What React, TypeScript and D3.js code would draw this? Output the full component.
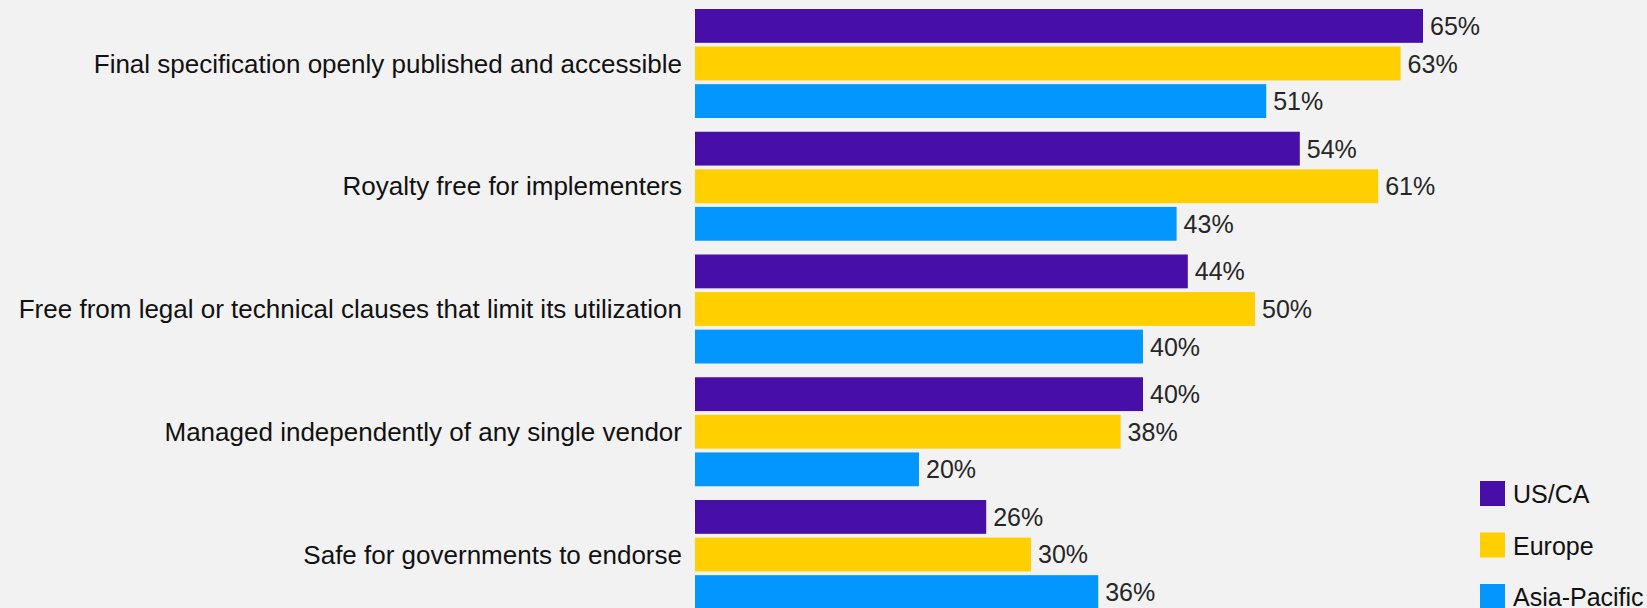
import React from "react";
import * as d3 from "d3";

const categories = [
  "Final specification openly published and accessible",
  "Royalty free for implementers",
  "Free from legal or technical clauses that limit its utilization",
  "Managed independently of any single vendor",
  "Safe for governments to endorse",
];
const seriesNames = ["US/CA", "Europe", "Asia-Pacific"];
const usCa = [65, 54, 44, 40, 26];
const europe = [63, 61, 50, 38, 30];
const asiaPacific = [51, 43, 40, 20, 36];
const seriesColors = ["#470FA8", "#FFCF00", "#0396FF"];

const W = 1647;
const H = 608;

export default function App() {
  const seriesValues = [usCa, europe, asiaPacific];
  const x = d3.scaleLinear().domain([0, 100]).range([695, 1815]);
  const y0 = d3.scaleBand<string>().domain(categories).range([9, 609]).paddingInner(0.112).paddingOuter(0);
  const y1 = d3.scaleBand<string>().domain(seriesNames).range([0, y0.bandwidth()]).paddingInner(0.1);
  const font = "'Liberation Sans', Arial, sans-serif";

  return (
    <svg
      width={W}
      height={H}
      style={{ position: "absolute", left: 0, top: 0, display: "block" }}
    >
      <rect x={0} y={0} width={W} height={H} fill="#f2f2f2" />
      {categories.map((c, i) => {
        const gy = y0(c)!;
        return (
          <g key={c}>
            <text
              x={682}
              y={gy + y0.bandwidth() / 2}
              dy="0.35em"
              textAnchor="end"
              fontFamily={font}
              fontSize={26}
              fill="#111"
            >
              {c}
            </text>
            {seriesNames.map((s, j) => {
              const v = seriesValues[j][i];
              const by = gy + y1(s)!;
              return (
                <g key={s}>
                  <rect
                    x={x(0)}
                    y={by}
                    width={x(v) - x(0)}
                    height={y1.bandwidth()}
                    fill={seriesColors[j]}
                  />
                  <text
                    x={x(v) + 7}
                    y={by + y1.bandwidth() / 2}
                    dy="0.36em"
                    fontFamily={font}
                    fontSize={25}
                    fill="#262626"
                  >
                    {v}%
                  </text>
                </g>
              );
            })}
          </g>
        );
      })}
      {seriesNames.map((s, j) => (
        <g key={s} transform={`translate(1480, ${481 + j * 51.5})`}>
          <rect x={0} y={0} width={25} height={25} fill={seriesColors[j]} />
          <text x={33} y={12.5} dy="0.38em" fontFamily={font} fontSize={25} fill="#111">
            {s}
          </text>
        </g>
      ))}
    </svg>
  );
}
